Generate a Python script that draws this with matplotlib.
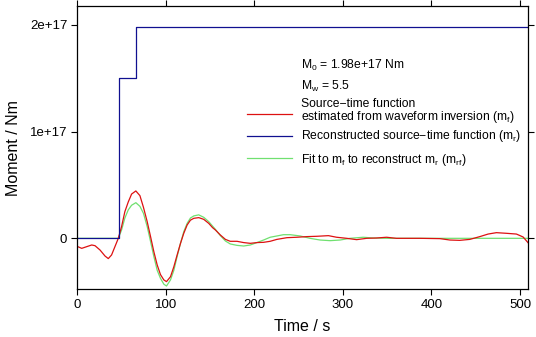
import matplotlib
matplotlib.use("Agg")
import matplotlib.pyplot as plt
import numpy as np

plt.rcParams['font.family'] = ['Liberation Sans', 'DejaVu Sans']
plt.rcParams['mathtext.default'] = 'regular'

# Source-time function estimated from waveform inversion (m_f), units of 1e17 Nm
red_t = [0, 0.8, 5.3, 11, 16.6, 20.3, 26, 31.6, 35.3, 39, 42.8, 46.6, 50.3, 54, 57.8,
         61.6, 66.4, 71, 75, 79.2, 83, 86.7, 90.5, 94.2, 98, 101, 105.5, 109.3, 113,
         116.8, 120.5, 124.3, 128, 131.8, 137.4, 143, 148.7, 153, 156.2, 161.8, 167.5,
         173, 180.6, 188.1, 195.6, 203, 210.6, 218, 225.6, 236.9, 248, 259.4, 270.6,
         283.8, 293, 304.4, 315.6, 326.9, 338, 349.4, 360.6, 387, 409.6, 420.9, 432,
         443.4, 454.7, 464, 473.4, 484.7, 496, 503.5, 509, 511]
red_v = [-0.075, -0.078, -0.094, -0.078, -0.0625, -0.069, -0.11, -0.166, -0.19, -0.156,
         -0.078, 0.0, 0.11, 0.25, 0.34, 0.415, 0.444, 0.40, 0.29, 0.156, 0.016, -0.125,
         -0.25, -0.34, -0.39, -0.406, -0.36, -0.266, -0.156, -0.047, 0.047, 0.125, 0.17,
         0.1875, 0.194, 0.178, 0.14, 0.10, 0.078, 0.031, -0.01, -0.028, -0.028, -0.04,
         -0.047, -0.04, -0.0375, -0.028, -0.01, 0.006, 0.01, 0.016, 0.019, 0.025, 0.01,
         0.0, -0.0125, 0.0, 0.003, 0.01, 0.0, 0.0, -0.003, -0.016, -0.019, -0.01, 0.016,
         0.04, 0.053, 0.047, 0.04, 0.0125, -0.04, -0.06]

# Reconstructed source-time function (m_r)
blue_t = [0, 47, 47, 67, 67, 511]
blue_v = [0.0, 0.0, 1.50, 1.50, 1.98, 1.98]

# Fit to m_f to reconstruct m_r (m_rf)
green_t = [0, 46.6, 50.3, 54, 57.8, 61.6, 66.4, 71, 75, 79.2, 83, 86.7, 90.5, 94.2, 98,
           101, 105.5, 109.3, 113, 116.8, 120.5, 124.3, 128, 131.8, 137.4, 143, 148.7,
           156.2, 161.8, 167.5, 173, 180.6, 188.1, 195.6, 203, 210.6, 218, 225.6, 233,
           240.6, 251.9, 263, 274.4, 285.6, 296.9, 308, 323, 334.4, 350, 400, 511]
green_v = [0.0, 0.0, 0.078, 0.19, 0.266, 0.31, 0.334, 0.30, 0.234, 0.11, -0.03, -0.17,
           -0.30, -0.375, -0.43, -0.447, -0.39, -0.30, -0.17, -0.047, 0.0625, 0.14,
           0.19, 0.21, 0.22, 0.197, 0.156, 0.084, 0.025, -0.025, -0.053, -0.066, -0.072,
           -0.0625, -0.04, -0.016, 0.01, 0.022, 0.034, 0.034, 0.022, 0.0, -0.016,
           -0.022, -0.016, 0.0, 0.01, 0.003, 0.0, 0.0, 0.0]

scale = 1e17
xticks = [0, 100, 200, 300, 400, 500]
yticks = [0, 1e17, 2e17]
yticklabels = ['0', '1e+17', '2e+17']

fig = plt.figure(figsize=(5.36, 3.37), dpi=100)
ax = fig.add_axes([0.1437, 0.1415, 0.8413, 0.8405])

ax.plot(green_t, np.array(green_v) * scale, color='#70e070', lw=0.9)
ax.plot(red_t, np.array(red_v) * scale, color='#dd1111', lw=0.9)
ax.plot(blue_t, np.array(blue_v) * scale, color='#101090', lw=0.9)

ax.set_xlim(0, 509)
ax.set_ylim(-0.478e17, 2.177e17)
ax.set_xticks(xticks)
ax.set_yticks(yticks)
ax.set_yticklabels(yticklabels)
ax.tick_params(axis='both', direction='out', length=4, width=0.8, labelsize=9.5,
               top=True, right=True, labeltop=False, labelright=False, pad=3)
for s in ax.spines.values():
    s.set_linewidth(0.9)
ax.set_xlabel('Time / s', fontsize=11.5, labelpad=6)
ax.set_ylabel('Moment / Nm', fontsize=11.5, labelpad=6)

# Annotation and legend
tx = 0.497
fs = 8.7
ax.text(tx, 0.792, r'M$_0$ = 1.98e+17 Nm', transform=ax.transAxes, fontsize=fs, va='center')
ax.text(tx, 0.715, r'M$_w$ = 5.5', transform=ax.transAxes, fontsize=fs, va='center')
entries = [
    ('#dd1111', 0.62, 0.628, 'Source\u2212time function\nestimated from waveform inversion (m$_f$)'),
    ('#101090', 0.541, 0.541, 'Reconstructed source\u2212time function (m$_r$)'),
    ('#70e070', 0.463, 0.456, 'Fit to m$_f$ to reconstruct m$_r$ (m$_{rf}$)'),
]
for col, ly, ty, lab in entries:
    ax.plot([0.377, 0.477], [ly, ly], transform=ax.transAxes, color=col, lw=0.9)
    ax.text(tx, ty, lab, transform=ax.transAxes, fontsize=fs, va='center', linespacing=0.85)

fig.savefig('out.png', dpi=100)
